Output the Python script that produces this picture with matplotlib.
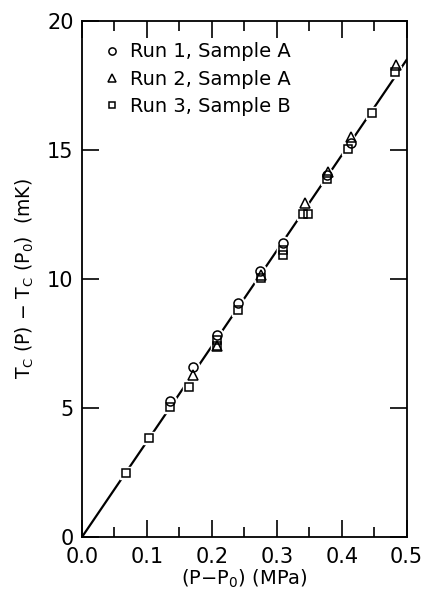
import matplotlib
matplotlib.use("Agg")
import matplotlib.pyplot as plt
import numpy as np

# Data
run1_x = [0.136, 0.171, 0.208, 0.240, 0.274, 0.309, 0.378, 0.414]
run1_y = [5.28, 6.60, 7.83, 9.06, 10.31, 11.38, 14.05, 15.28]

run2_x = [0.171, 0.208, 0.275, 0.343, 0.379, 0.414, 0.483]
run2_y = [6.28, 7.40, 10.16, 12.96, 14.16, 15.50, 18.29]

run3_x = [0.067, 0.103, 0.136, 0.165, 0.208, 0.208, 0.240, 0.275, 0.309, 0.309,
          0.341, 0.348, 0.377, 0.410, 0.447, 0.482]
run3_y = [2.49, 3.85, 5.05, 5.83, 7.62, 7.40, 8.78, 10.02, 11.12, 10.93,
          12.52, 12.52, 13.87, 15.05, 16.42, 18.04]

fit_slope = 37.0  # mK / MPa
fit_x = [0.0, 0.5]

labels = ["Run 1, Sample A", "Run 2, Sample A", "Run 3, Sample B"]
xticks = [0.0, 0.1, 0.2, 0.3, 0.4, 0.5]
yticks = [0, 5, 10, 15, 20]

plt.rcParams['font.family'] = ['DejaVu Sans']
fig = plt.figure(figsize=(4.22, 5.92), dpi=100)
ax = fig.add_axes([0.1943, 0.0929, 0.7694, 0.8716])

ax.plot(fit_x, [fit_slope * v for v in fit_x], color='black', lw=1.6, zorder=1)

series = [(run1_x, run1_y, 'o', 6.5), (run2_x, run2_y, '^', 6.5), (run3_x, run3_y, 's', 6)]
# white halos that break the fit line around the markers
for xs, ys, m, ms in series:
    ax.plot(xs, ys, linestyle='none', marker=m, markersize=ms + 3,
            markerfacecolor='white', markeredgecolor='white', zorder=2)
handles = []
for (xs, ys, m, ms), lab in zip(series, labels):
    h, = ax.plot(xs, ys, linestyle='none', marker=m, markersize=ms,
                 markerfacecolor='none', markeredgecolor='black',
                 markeredgewidth=1.1, zorder=3, label=lab)
    handles.append(h)

ax.set_xlim(0, 0.5)
ax.set_ylim(0, 20)
ax.set_xticks(xticks)
ax.set_xticklabels([f"{v:.1f}" for v in xticks])
ax.set_yticks(yticks)
ax.set_yticklabels([str(v) for v in yticks])
ax.set_xticks(np.arange(0.05, 0.5, 0.1), minor=True)
ax.tick_params(which='both', direction='in', top=True, right=True,
               labelsize=15, width=1.2)
ax.tick_params(axis='x', pad=7)
ax.tick_params(axis='y', pad=6)
ax.tick_params(which='major', length=12)
ax.tick_params(which='minor', length=7)
for s in ax.spines.values():
    s.set_linewidth(1.3)

ax.set_xlabel(r"(P$-$P$_0$) (MPa)", fontsize=14, labelpad=1)
ax.set_ylabel(r"T$_\mathrm{C}$ (P) $-$ T$_\mathrm{C}$ (P$_0$)  (mK)", fontsize=13.5, labelpad=8)

leg = ax.legend(handles=handles, loc='upper left', frameon=False, fontsize=14,
                handletextpad=0.45, handlelength=0.9, labelspacing=0.42,
                borderaxespad=0.8, borderpad=0.3, markerscale=0.8)

fig.savefig("out.png", dpi=100)
